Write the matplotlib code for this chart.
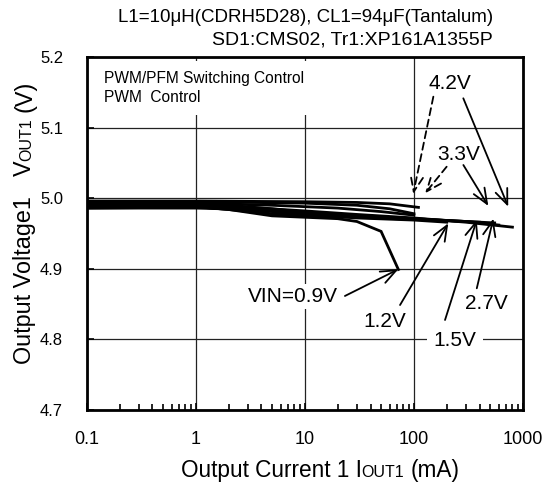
import matplotlib
matplotlib.use("Agg")
import matplotlib.pyplot as plt
import numpy as np
from matplotlib.ticker import NullFormatter, LogLocator

plt.rcParams['font.family'] = ['Liberation Sans', 'DejaVu Sans']

# ---- data (I in mA, V in volts) ----
i_pfm42 = [0.1, 1, 10, 30, 60, 110]
v_pfm42 = [4.996, 4.996, 4.995, 4.994, 4.992, 4.987]
i_pfm33 = [0.1, 1, 10, 30, 60, 100]
v_pfm33 = [4.995, 4.995, 4.993, 4.990, 4.985, 4.978]
i_pfm27 = [0.1, 1, 5, 20, 50, 100]
v_pfm27 = [4.994, 4.993, 4.990, 4.986, 4.981, 4.976]
i_pwm42 = [0.1, 1, 3, 10, 30, 100, 300, 800]
v_pwm42 = [4.990, 4.990, 4.987, 4.982, 4.977, 4.972, 4.966, 4.959]
i_pwm33 = [0.1, 1, 3, 10, 30, 100, 300, 600]
v_pwm33 = [4.989, 4.989, 4.985, 4.979, 4.975, 4.971, 4.967, 4.962]
i_pwm27 = [0.1, 1, 2, 5, 10, 30, 100, 300, 550]
v_pwm27 = [4.988, 4.988, 4.984, 4.978, 4.975, 4.973, 4.970, 4.967, 4.965]
i_pwm15 = [0.1, 1, 2, 5, 10, 30, 100, 400]
v_pwm15 = [4.992, 4.991, 4.990, 4.985, 4.980, 4.975, 4.971, 4.966]
i_pwm12 = [0.1, 1, 3, 10, 30, 100, 200]
v_pwm12 = [4.986, 4.986, 4.984, 4.977, 4.972, 4.969, 4.966]
i_pwm09 = [0.1, 0.5, 1, 2, 5, 10, 20, 30, 50, 72]
v_pwm09 = [4.986, 4.987, 4.988, 4.984, 4.975, 4.973, 4.971, 4.967, 4.953, 4.899]

curves = [(i_pfm42, v_pfm42), (i_pfm33, v_pfm33), (i_pfm27, v_pfm27),
          (i_pwm42, v_pwm42), (i_pwm33, v_pwm33), (i_pwm27, v_pwm27),
          (i_pwm15, v_pwm15), (i_pwm12, v_pwm12), (i_pwm09, v_pwm09)]

x_ticks = [0.1, 1, 10, 100, 1000]
x_ticklabels = ["0.1", "1", "10", "100", "1000"]
y_ticks = [4.7, 4.8, 4.9, 5.0, 5.1, 5.2]
y_ticklabels = ["4.7", "4.8", "4.9", "5.0", "5.1", "5.2"]

W, H = 556, 486
fig = plt.figure(figsize=(W / 100, H / 100), dpi=100)
ax = fig.add_axes([86.7 / W, 1 - 410 / H, (523 - 86.7) / W, (410 - 57) / H])

for xs, ys in curves:
    ax.plot(xs, ys, color='black', lw=2.0, zorder=4, solid_joinstyle='miter')

ax.set_xscale('log')
ax.set_xlim(0.1, 1000)
ax.set_ylim(4.7, 5.2)
ax.set_xticks(x_ticks)
ax.set_xticklabels(x_ticklabels)
ax.xaxis.set_minor_locator(LogLocator(base=10, subs=np.arange(2, 10)))
ax.xaxis.set_minor_formatter(NullFormatter())
ax.set_yticks(y_ticks)
ax.set_yticklabels(y_ticklabels)
ax.tick_params(axis='both', which='major', direction='in', length=5, width=1.2)
ax.tick_params(axis='x', which='major', labelsize=13, pad=15)
ax.tick_params(axis='y', which='major', labelsize=12, pad=17)
ax.tick_params(axis='x', which='minor', direction='in', length=4, width=1.2)
ax.grid(True, which='major', color='#222222', lw=0.9)
ax.set_axisbelow(True)
for s in ax.spines.values():
    s.set_linewidth(2)

box = dict(facecolor='white', edgecolor='none', pad=2)
lab = 15

# legend-like text
ax.text(0.145, 5.156, "PWM/PFM Switching Control\nPWM  Control", fontsize=11.2,
        va='center', ha='left', linespacing=1.4, zorder=3,
        bbox=dict(facecolor='white', edgecolor='none', pad=7))

# annotation labels
ax.text(214, 5.1627, "4.2V", fontsize=lab, ha='center', va='center', zorder=3, bbox=box)
ax.text(255, 5.0612, "3.3V", fontsize=lab, ha='center', va='center', zorder=3, bbox=box)
ax.text(7.84, 4.8605, "VIN=0.9V", fontsize=lab, ha='center', va='center', zorder=3, bbox=box)
ax.text(54.3, 4.825, "1.2V", fontsize=lab, ha='center', va='center', zorder=3, bbox=box)
ax.text(238, 4.799, "1.5V", fontsize=lab, ha='center', va='center', zorder=3,
        bbox=dict(facecolor='white', edgecolor='none', pad=5))
ax.text(465, 4.851, "2.7V", fontsize=lab, ha='center', va='center', zorder=3, bbox=box)

solid = dict(arrowstyle='->,head_length=1.1,head_width=0.45', color='black', lw=1.3,
             shrinkA=0, shrinkB=0)
dashed = dict(arrowstyle='->,head_length=1.1,head_width=0.45', color='black', lw=1.3,
              linestyle=(0, (4, 2.5)), shrinkA=0, shrinkB=0)

ax.annotate('', xy=(98.6, 5.006), xytext=(150.7, 5.1438), arrowprops=dashed, zorder=5)
ax.annotate('', xy=(732, 4.988), xytext=(283.6, 5.1415), arrowprops=solid, zorder=5)
ax.annotate('', xy=(126.5, 5.0069), xytext=(199.5, 5.0446), arrowprops=dashed, zorder=5)
ax.annotate('', xy=(481, 4.989), xytext=(284, 5.047), arrowprops=solid, zorder=5)
ax.annotate('', xy=(71.9, 4.8993), xytext=(23.3, 4.8615), arrowprops=solid, zorder=5)
ax.annotate('', xy=(206.5, 4.9644), xytext=(74.6, 4.8487), arrowprops=solid, zorder=5)
ax.annotate('', xy=(376.8, 4.969), xytext=(192.8, 4.8275), arrowprops=solid, zorder=5)
ax.annotate('', xy=(534.6, 4.9712), xytext=(377, 4.8724), arrowprops=solid, zorder=5)

# header text
fig.text(493 / W, 1 - 17 / H, "L1=10\u03bcH(CDRH5D28), CL1=94\u03bcF(Tantalum)",
         ha='right', va='center', fontsize=13.5)
fig.text(493 / W, 1 - 40 / H, "SD1:CMS02, Tr1:XP161A1355P",
         ha='right', va='center', fontsize=14)

# axis labels built from pieces (small-caps part)
renderer = fig.canvas.get_renderer()


def measure(s, size):
    t = fig.text(0, 0, s, fontsize=size)
    w = t.get_window_extent(renderer).width
    t.remove()
    return w


def place(pieces, center, base, vertical=False):
    sp = measure("a a", pieces[0][1]) - measure("aa", pieces[0][1])
    widths = [measure(s, sz) for s, sz, g in pieces]
    total = sum(widths) + sum(sp * g for s, sz, g in pieces)
    if vertical:
        pos = (H - center) - total / 2
    else:
        pos = center - total / 2
    for (s, sz, g), w in zip(pieces, widths):
        pos += sp * g
        if vertical:
            fig.text(base / W, pos / H, s, fontsize=sz, rotation=90,
                     rotation_mode='anchor', ha='left', va='baseline')
        else:
            fig.text(pos / W, 1 - base / H, s, fontsize=sz, ha='left', va='baseline')
        pos += w


axlab = 16.3
sub = 11.5
xl = [("Output Current 1 I", axlab, 0), ("OUT1", sub, 0), ("(mA)", axlab, 1)]
place(xl, 320, 477)
yl = [("Output Voltage1", 16.8, 0), ("V", 16.8, 3), ("OUT1", sub, 0), ("(V)", 16.8, 1)]
place(yl, 222, 31, vertical=True)

fig.savefig("out.png", dpi=100)
